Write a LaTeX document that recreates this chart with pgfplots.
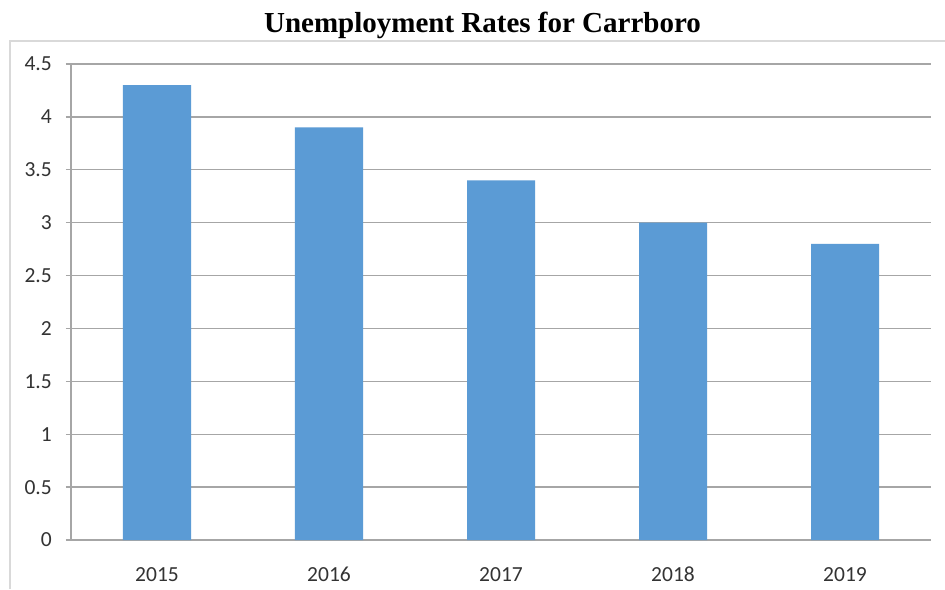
\documentclass[border=0pt]{standalone}
\usepackage{pgfplots}
\pgfplotsset{compat=1.18}
\usepackage{fontspec}
\setmainfont{Carlito}
\newfontfamily\titlefont{Liberation Serif}
\definecolor{barblue}{HTML}{5B9BD5}
\definecolor{gridgray}{HTML}{A6A6A6}
\definecolor{framegray}{HTML}{D9D9D9}
\definecolor{labelgray}{HTML}{333333}
\begin{document}
\begin{tikzpicture}[x=1pt,y=1pt]
% picture bounds: 945 x 589 px, axis lower left at px (71,540)
\useasboundingbox (-71,-49) rectangle (874,540);
\fill[white] (-71,-49) rectangle (874,540);
\draw[framegray, line width=2pt] (-61,-49) -- (-61,499) -- (874,499);
\node[anchor=base, font=\titlefont\bfseries\fontsize{29}{32}\selectfont] at (411.5,507) {Unemployment Rates for Carrboro};
\begin{axis}[
    at={(0,0)}, anchor=south west,
    scale only axis,
    width=860pt, height=476pt,
    xmin=-0.5, xmax=4.5,
    ymin=0, ymax=4.5,
    ytick={0,0.5,...,4.5},
    xtick=data,
    xticklabels={2015,2016,2017,2018,2019},
    axis x line*=bottom, axis y line*=left,
    axis line style={gridgray, line width=1.3pt, -},
    ymajorgrids,
    grid style={gridgray, line width=1.3pt},
    x tick style={draw=none},
    y tick style={gridgray, line width=1.3pt},
    major tick length=5pt,
    tick align=outside,
    extra x ticks={-0.5,0.5,1.5,2.5,3.5,4.5},
    extra x tick labels={},
    extra x tick style={grid=none, major tick length=7pt, tick style={draw=gridgray, line width=1.3pt}},
    tick label style={font=\fontsize{21.5}{24}\selectfont, text=labelgray},
    /pgf/number format/assume math mode=true,
    yticklabel style={anchor=east, inner sep=0pt, xshift=-14pt},
    xticklabel style={anchor=base, inner sep=0pt, yshift=-36pt},
    ]
\addplot[ybar, bar width=68pt, fill=barblue, draw=none]
coordinates {(0,4.3)
(1,3.9)
(2,3.4)
(3,3.0)
(4,2.8)
};
\end{axis}
\end{tikzpicture}
\end{document}
